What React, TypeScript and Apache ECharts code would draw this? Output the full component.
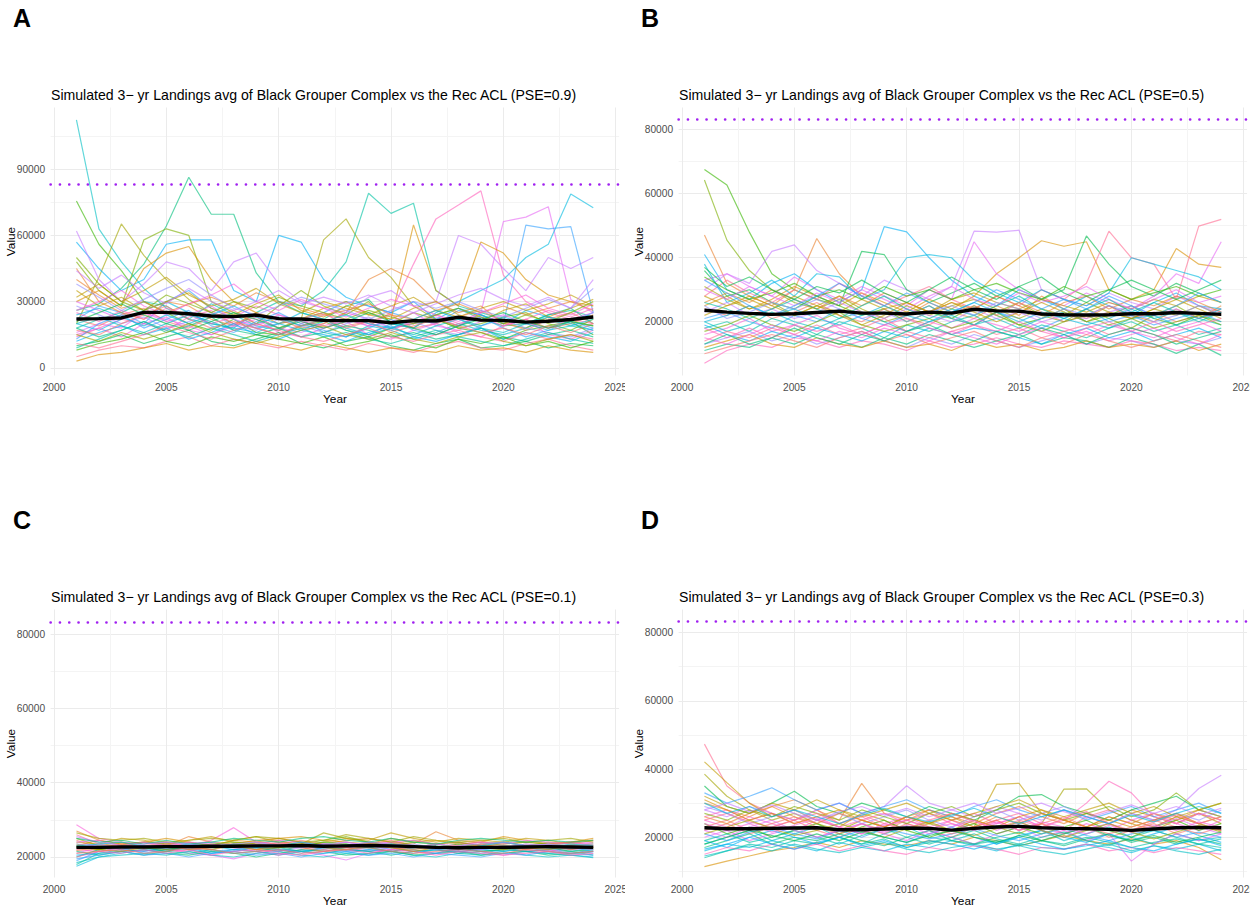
import React, { useEffect, useRef } from "react";
import * as echarts from "echarts";

const years = [2001, 2002, 2003, 2004, 2005, 2006, 2007, 2008, 2009, 2010, 2011, 2012, 2013, 2014, 2015, 2016, 2017, 2018, 2019, 2020, 2021, 2022, 2023, 2024];
const ACL = 83300;

// Simulated series (thousands)
const simA: number[][] = [
  [112.4, 63.0, 48.0, 36.0, 27.0, 22.0, 29.0, 24.0, 19.0, 17.0, 22.0, 16.0, 14.0, 19.0, 17.0, 13.0, 16.0, 20.0, 17.0, 15.0, 18.0, 22.0, 19.0, 17.0],
  [75.6, 56.0, 44.0, 30.0, 25.0, 20.0, 17.0, 22.0, 16.0, 15.0, 19.0, 21.0, 17.0, 14.0, 18.0, 20.0, 22.0, 18.0, 16.0, 13.0, 17.0, 19.0, 21.0, 15.0],
  [26.0, 29.0, 36.0, 47.0, 64.3, 86.4, 69.6, 69.6, 43.0, 30.0, 25.0, 22.0, 28.0, 31.0, 20.0, 18.0, 24.0, 27.0, 22.0, 19.0, 20.0, 24.0, 27.0, 20.0],
  [20.0, 41.0, 65.2, 51.0, 40.0, 31.0, 25.0, 20.0, 23.0, 18.0, 22.0, 58.0, 67.5, 50.0, 41.0, 28.0, 22.0, 19.0, 24.0, 20.0, 18.0, 23.0, 21.0, 19.0],
  [18.0, 22.0, 25.0, 30.0, 28.0, 22.0, 20.0, 18.0, 25.0, 30.0, 28.0, 35.0, 48.0, 79.1, 70.0, 74.6, 35.0, 28.0, 25.0, 22.0, 20.0, 24.0, 26.0, 23.0],
  [14.0, 18.0, 22.0, 20.0, 17.0, 23.0, 26.0, 20.0, 18.0, 15.0, 20.0, 24.0, 22.0, 19.0, 25.0, 47.0, 67.5, 73.8, 80.2, 42.0, 30.0, 25.0, 22.0, 20.0],
  [16.0, 20.0, 18.0, 25.0, 22.0, 19.0, 15.0, 20.0, 23.0, 18.0, 16.0, 20.0, 25.0, 22.0, 18.0, 20.0, 23.0, 19.0, 25.0, 66.3, 68.3, 73.0, 31.0, 25.0],
  [20.0, 17.0, 22.0, 26.0, 30.0, 25.0, 20.0, 18.0, 16.0, 20.0, 25.0, 22.0, 18.0, 15.0, 20.0, 18.0, 25.0, 30.0, 35.0, 40.0, 50.0, 56.0, 78.8, 72.6],
  [22.0, 28.0, 25.0, 20.0, 30.0, 35.0, 27.0, 22.0, 18.0, 20.0, 22.0, 25.0, 30.0, 28.0, 25.0, 22.0, 20.0, 26.0, 24.0, 20.0, 64.7, 63.0, 64.0, 25.0],
  [57.0, 45.0, 35.0, 40.0, 56.0, 58.0, 58.0, 35.0, 30.0, 60.0, 57.0, 40.0, 32.0, 28.0, 25.0, 30.0, 22.0, 27.0, 24.0, 20.0, 26.0, 23.0, 21.0, 25.0],
  [48.0, 35.0, 28.0, 58.0, 63.0, 60.0, 30.0, 25.0, 20.0, 28.0, 35.0, 28.0, 24.0, 30.0, 20.0, 25.0, 22.0, 18.0, 20.0, 23.0, 25.0, 20.0, 17.0, 22.0],
  [45.0, 30.0, 25.0, 22.0, 30.0, 28.0, 22.0, 19.0, 25.0, 22.0, 18.0, 20.0, 25.0, 40.0, 45.0, 40.0, 30.0, 25.0, 28.0, 20.0, 22.0, 18.0, 20.0, 24.0],
  [30.0, 35.0, 28.0, 45.0, 52.0, 55.0, 40.0, 30.0, 25.0, 20.0, 22.0, 27.0, 30.0, 24.0, 22.0, 64.8, 35.0, 28.0, 57.0, 52.0, 40.0, 33.0, 30.0, 28.0],
  [62.0, 40.0, 30.0, 38.0, 48.0, 45.0, 35.0, 48.0, 52.0, 38.0, 30.0, 27.0, 25.0, 32.0, 35.0, 28.0, 30.0, 60.0, 56.0, 45.0, 35.0, 50.0, 45.0, 50.0],
  [22.0, 19.0, 24.0, 27.0, 21.0, 18.0, 23.0, 26.0, 20.0, 17.0, 22.0, 25.0, 19.0, 21.0, 24.0, 18.0, 20.0, 23.0, 26.0, 21.0, 17.0, 22.0, 25.0, 20.0],
  [15.0, 18.0, 14.0, 20.0, 23.0, 17.0, 15.0, 19.0, 22.0, 16.0, 14.0, 18.0, 21.0, 15.0, 13.0, 17.0, 20.0, 16.0, 14.0, 19.0, 22.0, 15.0, 13.0, 17.0],
  [10.0, 12.0, 15.0, 11.0, 14.0, 17.0, 12.0, 10.0, 13.0, 16.0, 11.0, 9.0, 12.0, 14.0, 10.0, 8.0, 11.0, 13.0, 9.0, 10.0, 12.0, 9.0, 11.0, 10.0],
  [35.0, 28.0, 32.0, 26.0, 30.0, 34.0, 27.0, 24.0, 29.0, 33.0, 26.0, 23.0, 28.0, 25.0, 22.0, 27.0, 30.0, 24.0, 21.0, 26.0, 29.0, 23.0, 27.0, 31.0],
  [5.0, 8.0, 10.0, 9.0, 12.0, 14.0, 10.0, 13.0, 11.0, 9.0, 12.0, 10.0, 8.0, 11.0, 9.0, 7.0, 10.0, 12.0, 9.0, 8.0, 11.0, 13.0, 10.0, 8.0],
  [28.0, 24.0, 20.0, 23.0, 18.0, 21.0, 25.0, 19.0, 17.0, 22.0, 19.0, 16.0, 20.0, 23.0, 18.0, 21.0, 17.0, 15.0, 19.0, 22.0, 18.0, 16.0, 14.0, 18.0],
  [18.0, 14.0, 17.0, 21.0, 16.0, 19.0, 23.0, 17.0, 15.0, 18.0, 14.0, 16.0, 19.0, 17.0, 14.0, 16.0, 13.0, 15.0, 18.0, 14.0, 12.0, 15.0, 17.0, 14.0],
  [40.0, 33.0, 27.0, 30.0, 25.0, 29.0, 32.0, 28.0, 34.0, 30.0, 27.0, 24.0, 26.0, 29.0, 24.0, 22.0, 26.0, 29.0, 25.0, 28.0, 24.0, 27.0, 30.0, 26.0],
  [12.0, 16.0, 19.0, 15.0, 18.0, 13.0, 16.0, 20.0, 15.0, 13.0, 17.0, 15.0, 12.0, 16.0, 19.0, 14.0, 12.0, 15.0, 18.0, 13.0, 16.0, 14.0, 12.0, 16.0],
  [25.0, 21.0, 26.0, 22.0, 27.0, 24.0, 20.0, 23.0, 28.0, 24.0, 21.0, 19.0, 22.0, 20.0, 17.0, 21.0, 24.0, 20.0, 23.0, 19.0, 22.0, 26.0, 23.0, 27.0],
  [8.0, 11.0, 13.0, 16.0, 12.0, 10.0, 14.0, 12.0, 15.0, 13.0, 11.0, 14.0, 10.0, 12.0, 15.0, 11.0, 9.0, 13.0, 11.0, 14.0, 10.0, 12.0, 9.0, 12.0],
  [30.0, 26.0, 22.0, 25.0, 21.0, 24.0, 28.0, 22.0, 19.0, 24.0, 21.0, 18.0, 22.0, 19.0, 21.0, 25.0, 19.0, 17.0, 21.0, 24.0, 20.0, 18.0, 22.0, 25.0],
  [20.0, 23.0, 19.0, 16.0, 20.0, 24.0, 21.0, 17.0, 20.0, 23.0, 19.0, 22.0, 17.0, 15.0, 18.0, 15.0, 19.0, 22.0, 18.0, 16.0, 20.0, 17.0, 19.0, 22.0],
  [3.0, 6.0, 7.0, 9.0, 11.0, 8.0, 10.0, 9.0, 12.0, 10.0, 8.0, 11.0, 9.0, 7.0, 9.0, 8.0, 7.0, 10.0, 8.0, 9.0, 7.0, 10.0, 8.0, 7.0],
  [32.0, 38.0, 30.0, 35.0, 41.0, 33.0, 28.0, 31.0, 36.0, 29.0, 25.0, 30.0, 27.0, 24.0, 28.0, 32.0, 26.0, 23.0, 27.0, 30.0, 26.0, 29.0, 33.0, 28.0],
  [13.0, 20.0, 24.0, 18.0, 22.0, 26.0, 19.0, 16.0, 21.0, 25.0, 20.0, 17.0, 14.0, 18.0, 22.0, 17.0, 15.0, 19.0, 23.0, 18.0, 14.0, 17.0, 21.0, 18.0],
  [26.0, 30.0, 35.0, 28.0, 24.0, 29.0, 33.0, 38.0, 30.0, 26.0, 31.0, 27.0, 23.0, 27.0, 31.0, 28.0, 24.0, 21.0, 25.0, 29.0, 33.0, 27.0, 24.0, 29.0],
  [9.0, 13.0, 17.0, 21.0, 17.0, 14.0, 18.0, 15.0, 12.0, 15.0, 18.0, 14.0, 16.0, 13.0, 11.0, 14.0, 17.0, 14.0, 12.0, 10.0, 13.0, 16.0, 13.0, 11.0],
  [50.0, 38.0, 30.0, 26.0, 33.0, 29.0, 25.0, 30.0, 27.0, 32.0, 28.0, 25.0, 22.0, 26.0, 23.0, 20.0, 24.0, 27.0, 23.0, 20.0, 24.0, 21.0, 25.0, 30.0],
  [17.0, 15.0, 20.0, 24.0, 28.0, 22.0, 18.0, 21.0, 18.0, 15.0, 19.0, 22.0, 18.0, 21.0, 16.0, 19.0, 22.0, 19.0, 16.0, 18.0, 15.0, 19.0, 16.0, 20.0],
  [24.0, 27.0, 23.0, 19.0, 24.0, 20.0, 24.0, 28.0, 23.0, 20.0, 17.0, 21.0, 24.0, 20.0, 18.0, 22.0, 26.0, 22.0, 19.0, 23.0, 20.0, 23.0, 20.0, 17.0],
  [38.0, 32.0, 26.0, 31.0, 36.0, 40.0, 33.0, 27.0, 24.0, 28.0, 32.0, 29.0, 26.0, 22.0, 26.0, 30.0, 27.0, 30.0, 26.0, 23.0, 27.0, 31.0, 27.0, 36.0],
  [11.0, 9.0, 12.0, 15.0, 19.0, 16.0, 13.0, 17.0, 20.0, 17.0, 14.0, 12.0, 15.0, 18.0, 14.0, 12.0, 15.0, 17.0, 14.0, 12.0, 16.0, 13.0, 15.0, 13.0],
  [21.0, 25.0, 29.0, 24.0, 20.0, 17.0, 21.0, 25.0, 22.0, 18.0, 21.0, 18.0, 21.0, 25.0, 21.0, 18.0, 15.0, 19.0, 22.0, 25.0, 21.0, 18.0, 21.0, 19.0],
  [44.0, 36.0, 42.0, 34.0, 29.0, 36.0, 30.0, 26.0, 30.0, 35.0, 29.0, 32.0, 29.0, 33.0, 28.0, 25.0, 29.0, 33.0, 36.0, 31.0, 28.0, 32.0, 27.0, 40.0],
  [15.0, 12.0, 16.0, 13.0, 16.0, 20.0, 16.0, 13.0, 11.0, 14.0, 17.0, 19.0, 15.0, 13.0, 16.0, 13.0, 11.0, 14.0, 16.0, 12.0, 10.0, 13.0, 15.0, 12.0],
];
const meanA = [22.1, 22.3, 22.6, 25.1, 25.1, 24.5, 23.5, 23.2, 23.9, 22.3, 22.1, 21.5, 21.4, 21.4, 20.4, 21.4, 21.2, 22.9, 21.6, 21.5, 20.7, 21.1, 21.9, 23.0];

const simB: number[][] = [
  [67.6, 62.7, 48.0, 35.0, 30.0, 27.0, 25.0, 22.0, 24.0, 20.0, 23.0, 21.0, 25.0, 22.0, 19.0, 21.0, 24.0, 20.0, 22.0, 25.0, 21.0, 19.0, 22.0, 20.0],
  [64.3, 45.5, 36.0, 30.0, 26.0, 24.0, 27.0, 23.0, 20.0, 22.0, 25.0, 21.0, 19.0, 23.0, 26.0, 22.0, 20.0, 24.0, 21.0, 18.0, 22.0, 25.0, 21.0, 23.0],
  [47.1, 32.0, 28.0, 25.0, 30.0, 46.0, 35.0, 28.0, 25.0, 22.0, 26.0, 23.0, 21.0, 25.0, 22.0, 28.0, 24.0, 21.0, 25.0, 22.0, 20.0, 24.0, 21.0, 25.0],
  [41.0, 30.0, 27.0, 32.0, 35.0, 30.0, 26.0, 30.0, 49.7, 48.1, 40.0, 33.0, 28.0, 25.0, 30.0, 27.0, 24.0, 28.0, 25.0, 22.0, 26.0, 29.0, 25.0, 24.0],
  [30.0, 35.0, 32.0, 42.0, 44.0, 36.0, 32.0, 28.0, 33.0, 30.0, 27.0, 31.0, 48.3, 48.0, 48.6, 30.0, 27.0, 25.0, 29.0, 26.0, 24.0, 28.0, 25.0, 23.0],
  [25.0, 28.0, 24.0, 27.0, 31.0, 28.0, 25.0, 29.0, 26.0, 23.0, 27.0, 24.0, 28.0, 35.0, 40.0, 45.3, 43.6, 45.0, 30.0, 27.0, 30.0, 42.9, 38.0, 37.0],
  [36.0, 28.0, 30.0, 26.0, 24.0, 28.0, 25.0, 42.0, 41.0, 30.0, 26.0, 29.0, 32.0, 28.0, 31.0, 27.0, 30.0, 46.8, 38.0, 31.0, 28.0, 32.0, 29.0, 26.0],
  [28.0, 33.0, 29.0, 26.0, 30.0, 27.0, 32.0, 29.0, 25.0, 28.0, 31.0, 27.0, 24.0, 28.0, 25.0, 30.0, 27.0, 32.0, 48.3, 40.0, 38.0, 27.0, 49.9, 52.0],
  [33.0, 35.0, 31.0, 28.0, 34.0, 30.0, 27.0, 31.0, 28.0, 25.0, 30.0, 27.0, 45.0, 35.0, 30.0, 27.0, 25.0, 29.0, 26.0, 24.0, 28.0, 35.0, 32.0, 45.0],
  [38.0, 26.0, 29.0, 33.0, 28.0, 35.0, 34.0, 27.0, 30.0, 40.0, 41.0, 40.0, 33.0, 29.0, 26.0, 30.0, 27.0, 25.0, 29.0, 40.0, 38.0, 36.0, 34.0, 30.0],
  [24.0, 22.0, 25.0, 21.0, 23.0, 26.0, 22.0, 20.0, 24.0, 21.0, 19.0, 23.0, 25.0, 22.0, 26.0, 23.0, 20.0, 22.0, 25.0, 21.0, 23.0, 20.0, 22.0, 24.0],
  [18.0, 20.0, 17.0, 21.0, 19.0, 16.0, 20.0, 18.0, 15.0, 19.0, 17.0, 20.0, 22.0, 18.0, 16.0, 19.0, 17.0, 15.0, 18.0, 20.0, 17.0, 19.0, 16.0, 18.0],
  [13.0, 15.0, 17.0, 14.0, 16.0, 13.0, 15.0, 17.0, 14.0, 12.0, 15.0, 13.0, 16.0, 14.0, 12.0, 14.0, 16.0, 13.0, 15.0, 14.0, 12.0, 14.0, 13.0, 15.0],
  [28.0, 25.0, 27.0, 24.0, 28.0, 25.0, 23.0, 27.0, 24.0, 26.0, 23.0, 27.0, 29.0, 26.0, 24.0, 27.0, 25.0, 23.0, 26.0, 24.0, 27.0, 25.0, 28.0, 26.0],
  [7.0, 11.0, 13.0, 12.0, 15.0, 14.0, 12.0, 14.0, 13.0, 11.0, 14.0, 12.0, 13.0, 15.0, 13.0, 12.0, 14.0, 13.0, 12.0, 14.0, 13.0, 11.0, 12.0, 11.0],
  [21.0, 23.0, 20.0, 18.0, 22.0, 20.0, 24.0, 21.0, 19.0, 22.0, 25.0, 21.0, 19.0, 23.0, 21.0, 18.0, 21.0, 24.0, 20.0, 22.0, 19.0, 21.0, 23.0, 20.0],
  [31.0, 27.0, 24.0, 26.0, 22.0, 25.0, 28.0, 24.0, 21.0, 25.0, 22.0, 25.0, 27.0, 24.0, 21.0, 24.0, 22.0, 26.0, 23.0, 21.0, 24.0, 22.0, 25.0, 22.0],
  [16.0, 18.0, 21.0, 17.0, 19.0, 22.0, 18.0, 16.0, 19.0, 17.0, 20.0, 18.0, 21.0, 19.0, 17.0, 20.0, 18.0, 16.0, 19.0, 17.0, 15.0, 18.0, 20.0, 17.0],
  [11.0, 13.0, 12.0, 15.0, 13.0, 16.0, 14.0, 12.0, 15.0, 13.0, 16.0, 14.0, 12.0, 14.0, 16.0, 13.0, 15.0, 14.0, 12.0, 15.0, 13.0, 10.1, 13.0, 9.5],
  [26.0, 29.0, 26.0, 30.0, 27.0, 24.0, 28.0, 25.0, 29.0, 26.0, 23.0, 26.0, 24.0, 28.0, 25.0, 22.0, 26.0, 28.0, 24.0, 27.0, 25.0, 28.0, 26.0, 23.0],
  [20.0, 17.0, 19.0, 23.0, 20.0, 18.0, 21.0, 23.0, 20.0, 17.0, 20.0, 22.0, 19.0, 21.0, 18.0, 21.0, 23.0, 20.0, 18.0, 21.0, 22.0, 19.0, 21.0, 19.0],
  [14.0, 17.0, 15.0, 18.0, 16.0, 19.0, 16.0, 18.0, 21.0, 17.0, 15.0, 17.0, 19.0, 16.0, 18.0, 15.0, 17.0, 19.0, 16.0, 18.0, 16.0, 14.0, 17.0, 16.0],
  [34.0, 30.0, 27.0, 29.0, 32.0, 28.0, 30.0, 27.0, 31.0, 28.0, 30.0, 27.0, 30.0, 32.0, 29.0, 27.0, 31.0, 28.0, 30.0, 27.0, 29.0, 31.0, 28.0, 30.0],
  [23.0, 26.0, 22.0, 24.0, 21.0, 23.0, 26.0, 23.0, 21.0, 24.0, 22.0, 20.0, 24.0, 21.0, 23.0, 20.0, 22.0, 21.0, 23.0, 25.0, 22.0, 24.0, 21.0, 23.0],
  [19.0, 16.0, 14.0, 17.0, 15.0, 18.0, 16.0, 14.0, 17.0, 15.0, 18.0, 16.0, 18.0, 17.0, 15.0, 13.0, 16.0, 18.0, 15.0, 17.0, 14.0, 16.0, 18.0, 15.0],
  [12.0, 14.0, 16.0, 13.0, 12.0, 15.0, 13.0, 12.0, 14.0, 12.0, 13.0, 11.0, 14.0, 12.0, 13.0, 11.0, 12.0, 14.0, 12.0, 13.0, 12.0, 14.0, 11.0, 13.0],
  [30.0, 27.0, 31.0, 28.0, 25.0, 29.0, 26.0, 30.0, 27.0, 24.0, 28.0, 31.0, 27.0, 25.0, 29.0, 26.0, 28.0, 31.0, 27.0, 24.0, 27.0, 30.0, 26.0, 28.0],
  [17.0, 19.0, 22.0, 19.0, 17.0, 20.0, 23.0, 19.0, 17.0, 19.0, 21.0, 18.0, 20.0, 23.0, 19.0, 17.0, 20.0, 22.0, 19.0, 21.0, 18.0, 20.0, 22.0, 19.0],
  [26.0, 24.0, 21.0, 24.0, 27.0, 24.0, 21.0, 25.0, 28.0, 24.0, 21.0, 24.0, 22.0, 25.0, 28.0, 24.0, 21.0, 24.0, 27.0, 23.0, 26.0, 23.0, 20.0, 23.0],
  [15.0, 13.0, 16.0, 19.0, 16.0, 14.0, 17.0, 15.0, 18.0, 16.0, 14.0, 17.0, 15.0, 13.0, 16.0, 18.0, 15.0, 17.0, 14.0, 16.0, 18.0, 15.0, 13.0, 16.0],
  [22.0, 25.0, 28.0, 25.0, 22.0, 25.0, 22.0, 19.0, 22.0, 26.0, 23.0, 26.0, 23.0, 20.0, 23.0, 26.0, 23.0, 20.0, 23.0, 21.0, 24.0, 27.0, 24.0, 21.0],
  [33.0, 29.0, 25.0, 22.0, 25.0, 28.0, 32.0, 28.0, 25.0, 29.0, 26.0, 23.0, 26.0, 30.0, 27.0, 24.0, 27.0, 24.0, 28.0, 25.0, 22.0, 25.0, 29.0, 26.0],
  [10.0, 12.0, 14.0, 16.0, 14.0, 12.0, 15.0, 17.0, 14.0, 16.0, 13.0, 15.0, 17.0, 14.0, 12.0, 15.0, 13.0, 16.0, 14.0, 12.0, 14.0, 16.0, 14.0, 12.0],
  [20.0, 22.0, 25.0, 22.0, 24.0, 21.0, 19.0, 22.0, 25.0, 22.0, 20.0, 23.0, 26.0, 23.0, 20.0, 23.0, 21.0, 19.0, 21.0, 24.0, 21.0, 23.0, 21.0, 24.0],
  [37.0, 31.0, 34.0, 30.0, 27.0, 31.0, 29.0, 33.0, 29.0, 26.0, 30.0, 34.0, 30.0, 27.0, 31.0, 34.0, 29.0, 26.0, 30.0, 33.0, 30.0, 27.0, 30.0, 33.0],
  [18.0, 15.0, 18.0, 15.0, 19.0, 17.0, 19.0, 16.0, 19.0, 21.0, 18.0, 16.0, 19.0, 17.0, 20.0, 17.0, 15.0, 18.0, 20.0, 17.0, 20.0, 17.0, 19.0, 21.0],
  [25.0, 21.0, 23.0, 26.0, 24.0, 27.0, 24.0, 21.0, 23.0, 20.0, 23.0, 25.0, 22.0, 26.0, 24.0, 21.0, 24.0, 22.0, 25.0, 23.0, 20.0, 22.0, 25.0, 22.0],
  [13.0, 16.0, 13.0, 15.0, 18.0, 15.0, 13.0, 16.0, 14.0, 17.0, 19.0, 16.0, 14.0, 17.0, 15.0, 18.0, 16.0, 13.0, 16.0, 18.0, 16.0, 13.0, 15.0, 17.0],
];
const meanB = [23.6, 23.0, 22.6, 22.3, 22.5, 22.9, 23.3, 22.7, 22.7, 22.4, 23.0, 22.7, 23.9, 23.4, 23.3, 22.4, 22.2, 22.1, 22.2, 22.5, 22.5, 22.9, 22.6, 22.3];

const simC: number[][] = [
  [28.7, 25.0, 24.0, 23.5, 24.0, 23.0, 24.5, 27.9, 24.0, 23.5, 24.0, 23.0, 22.5, 23.5, 24.0, 23.0, 22.5, 23.5, 24.0, 23.0, 22.5, 23.0, 24.0, 23.5],
  [17.5, 20.0, 21.0, 22.0, 21.5, 22.5, 21.0, 22.0, 21.5, 20.5, 21.5, 22.0, 21.0, 22.0, 21.5, 21.0, 22.0, 21.5, 21.0, 22.0, 21.5, 21.0, 20.5, 20.0],
  [27.0, 24.5, 23.5, 24.0, 23.0, 25.5, 24.0, 23.5, 24.5, 25.0, 24.0, 23.5, 24.5, 25.0, 24.0, 23.5, 26.8, 24.5, 24.0, 23.5, 24.0, 23.5, 24.0, 24.5],
  [21.0, 22.5, 22.0, 21.5, 22.5, 21.0, 20.5, 19.5, 21.0, 22.0, 21.5, 20.5, 19.2, 21.0, 22.0, 21.5, 21.0, 22.0, 21.5, 20.5, 21.5, 22.0, 21.0, 21.5],
  [25.0, 23.0, 24.0, 22.5, 23.5, 24.0, 23.0, 24.5, 25.5, 24.0, 23.5, 26.5, 25.0, 24.0, 23.5, 24.5, 23.5, 22.5, 23.5, 24.0, 23.0, 24.0, 23.5, 22.5],
  [19.0, 21.5, 22.5, 21.0, 22.0, 22.5, 21.5, 22.0, 23.0, 22.0, 21.0, 22.5, 21.5, 22.0, 23.0, 22.0, 21.0, 22.5, 22.0, 21.5, 22.5, 21.5, 22.0, 21.0],
  [23.0, 24.5, 23.5, 24.0, 25.0, 24.0, 23.0, 24.5, 24.0, 25.0, 25.5, 24.5, 24.0, 23.5, 25.0, 24.0, 24.5, 23.5, 24.0, 25.5, 24.5, 23.5, 24.0, 25.0],
  [22.0, 21.5, 22.5, 23.0, 22.0, 21.5, 23.0, 22.5, 21.5, 20.5, 22.0, 23.0, 22.5, 21.5, 22.0, 23.0, 22.0, 21.0, 22.5, 23.0, 22.0, 21.5, 22.5, 22.0],
  [20.0, 22.0, 23.0, 22.5, 21.5, 23.0, 22.0, 23.5, 22.5, 21.5, 23.0, 22.5, 23.5, 22.5, 21.5, 22.5, 23.5, 22.5, 21.5, 22.0, 23.0, 22.5, 21.5, 22.0],
  [24.0, 23.5, 25.0, 24.5, 23.5, 24.5, 25.5, 24.0, 23.5, 24.5, 23.0, 24.0, 25.0, 24.5, 26.5, 25.0, 24.0, 25.0, 24.5, 24.0, 25.0, 24.5, 23.5, 24.5],
  [18.5, 20.0, 20.5, 21.0, 20.5, 21.5, 20.5, 20.0, 21.0, 21.5, 20.5, 20.0, 21.0, 20.5, 21.5, 20.5, 20.0, 21.0, 20.5, 21.5, 20.5, 20.0, 20.5, 19.8],
  [26.0, 23.5, 22.5, 23.0, 24.0, 22.5, 23.5, 22.5, 23.0, 24.0, 23.0, 22.0, 23.0, 24.0, 23.0, 22.5, 23.5, 24.0, 23.0, 22.5, 23.5, 23.0, 22.5, 23.0],
  [21.5, 20.5, 21.5, 22.0, 21.0, 20.5, 21.5, 21.0, 20.0, 21.0, 22.0, 21.5, 20.5, 21.0, 21.5, 20.5, 21.0, 21.5, 20.5, 21.0, 21.5, 20.5, 21.0, 21.5],
  [24.5, 22.5, 23.5, 22.5, 23.0, 23.5, 22.5, 23.0, 24.0, 23.5, 24.5, 23.5, 22.5, 23.5, 24.5, 23.0, 22.5, 23.0, 23.5, 22.5, 23.0, 23.5, 24.0, 23.0],
  [22.5, 23.5, 22.0, 23.0, 22.5, 23.5, 24.0, 23.0, 22.5, 23.5, 22.5, 23.5, 24.0, 23.0, 22.5, 23.5, 22.5, 22.0, 23.0, 22.5, 23.5, 23.0, 22.5, 22.0],
  [20.5, 21.0, 22.0, 21.5, 22.5, 22.0, 21.0, 21.5, 22.5, 22.0, 21.5, 22.5, 22.0, 21.5, 22.5, 21.5, 22.0, 21.5, 22.0, 22.5, 21.5, 22.0, 22.5, 21.5],
  [23.5, 22.0, 23.0, 24.0, 23.5, 22.5, 23.5, 24.0, 23.5, 22.5, 23.5, 24.5, 25.5, 24.0, 23.0, 24.0, 23.5, 24.0, 23.0, 23.5, 24.0, 23.5, 23.0, 23.5],
  [25.5, 24.0, 23.0, 22.5, 23.5, 22.0, 22.5, 23.5, 22.0, 21.5, 22.5, 23.5, 22.5, 23.0, 22.0, 22.5, 23.5, 22.5, 22.0, 23.0, 22.5, 23.5, 22.0, 22.5],
  [18.0, 21.0, 21.5, 20.5, 21.5, 21.0, 22.0, 21.0, 21.5, 22.5, 21.5, 21.0, 22.0, 21.5, 20.5, 21.5, 22.0, 21.0, 21.5, 22.0, 21.5, 21.0, 21.5, 20.5],
  [22.8, 22.0, 23.0, 22.5, 22.0, 23.0, 22.5, 23.5, 23.0, 22.5, 23.0, 24.0, 23.5, 22.5, 23.5, 23.0, 22.5, 23.5, 22.5, 23.0, 22.5, 22.5, 23.0, 22.5],
  [21.8, 22.5, 23.5, 22.5, 23.5, 22.5, 22.0, 23.0, 22.0, 23.5, 22.5, 21.5, 22.5, 23.5, 22.5, 22.0, 23.0, 22.0, 23.5, 22.5, 22.0, 23.0, 22.0, 23.0],
  [24.0, 24.5, 23.0, 24.0, 23.0, 24.0, 23.5, 22.5, 23.5, 24.5, 24.0, 23.0, 24.0, 23.0, 24.0, 24.5, 23.5, 23.0, 24.0, 23.5, 24.5, 24.0, 23.5, 24.0],
  [19.5, 20.5, 21.5, 20.5, 21.0, 20.0, 21.0, 21.5, 20.5, 21.0, 20.0, 21.0, 21.5, 20.5, 21.0, 20.0, 21.0, 20.5, 20.0, 21.0, 20.5, 21.5, 21.0, 20.5],
  [26.5, 25.0, 24.5, 25.0, 24.0, 24.5, 25.0, 24.5, 25.5, 25.0, 24.0, 24.5, 26.0, 25.0, 24.0, 25.5, 24.5, 24.0, 24.5, 25.0, 24.0, 24.5, 25.0, 24.0],
  [23.0, 23.5, 24.0, 23.0, 22.5, 23.5, 23.0, 22.0, 22.5, 23.0, 24.0, 23.0, 22.0, 22.5, 23.5, 22.5, 23.0, 22.0, 23.0, 24.0, 23.0, 22.5, 23.5, 23.0],
  [20.0, 21.5, 21.0, 22.0, 21.0, 22.0, 20.5, 21.5, 22.0, 21.0, 20.5, 21.5, 22.0, 21.0, 22.0, 21.5, 20.5, 21.5, 21.0, 20.5, 21.0, 21.5, 20.5, 21.0],
  [22.5, 22.0, 21.5, 22.5, 23.0, 22.0, 22.5, 23.0, 22.0, 22.5, 23.5, 22.5, 22.0, 23.0, 22.5, 21.5, 22.5, 23.0, 22.5, 22.0, 22.5, 22.0, 23.0, 22.5],
  [25.0, 24.0, 24.5, 23.5, 24.5, 23.5, 24.0, 25.0, 24.5, 24.0, 25.0, 25.5, 24.5, 24.0, 25.0, 24.0, 23.5, 24.5, 25.0, 24.5, 24.0, 24.5, 24.0, 24.5],
  [21.0, 21.5, 22.0, 21.0, 21.5, 22.5, 22.0, 21.0, 21.5, 22.0, 21.0, 21.5, 22.0, 22.5, 21.5, 21.0, 21.5, 22.0, 21.5, 21.0, 22.0, 21.5, 21.0, 21.5],
  [23.5, 23.0, 22.5, 23.5, 24.0, 23.5, 22.5, 23.5, 24.0, 23.0, 22.5, 23.5, 23.0, 24.0, 23.5, 23.0, 22.0, 23.0, 23.5, 24.0, 23.0, 23.5, 23.0, 23.5],
];
const meanC = [22.6, 22.6, 22.7, 22.7, 22.8, 22.8, 22.9, 22.9, 23.0, 23.0, 23.1, 22.9, 23.0, 23.1, 23.0, 22.8, 22.6, 22.5, 22.6, 22.6, 22.7, 22.8, 22.7, 22.6];

const simD: number[][] = [
  [47.3, 35.0, 30.0, 27.0, 25.0, 28.0, 24.0, 26.0, 23.0, 25.0, 27.0, 24.0, 22.0, 25.0, 27.0, 24.0, 22.0, 26.0, 28.0, 25.0, 23.0, 26.0, 24.0, 22.0],
  [42.1, 36.0, 30.0, 26.0, 28.0, 25.0, 23.0, 27.0, 25.0, 22.0, 24.0, 26.0, 23.0, 35.5, 35.8, 27.0, 25.0, 23.0, 26.0, 24.0, 22.0, 25.0, 27.0, 24.0],
  [38.5, 32.0, 28.0, 25.0, 27.0, 24.0, 22.0, 25.0, 23.0, 26.0, 24.0, 22.0, 25.0, 23.0, 21.0, 24.0, 34.1, 34.2, 28.0, 25.0, 23.0, 26.0, 24.0, 22.0],
  [11.4, 13.0, 14.5, 16.0, 17.0, 18.5, 17.0, 19.0, 18.0, 17.5, 19.0, 18.0, 20.0, 19.0, 17.5, 19.0, 20.5, 19.0, 18.0, 19.5, 18.0, 19.0, 17.0, 13.4],
  [30.0, 28.0, 26.0, 29.0, 31.0, 28.0, 25.0, 35.8, 27.0, 25.0, 28.0, 26.0, 24.0, 27.0, 29.0, 26.0, 24.0, 27.0, 25.0, 28.0, 26.0, 24.0, 27.0, 25.0],
  [28.0, 26.0, 29.0, 27.0, 25.0, 28.0, 30.0, 27.0, 29.0, 35.1, 30.0, 28.0, 26.0, 29.0, 27.0, 25.0, 28.0, 26.0, 24.0, 27.0, 25.0, 28.0, 34.3, 38.2],
  [26.0, 28.0, 25.0, 27.0, 24.0, 26.0, 23.0, 25.0, 27.0, 24.0, 22.0, 25.0, 27.0, 24.0, 26.0, 23.0, 25.0, 30.0, 36.4, 33.0, 26.0, 24.0, 27.0, 25.0],
  [33.0, 30.0, 32.0, 34.5, 31.0, 28.0, 30.0, 27.0, 29.0, 31.0, 28.0, 26.0, 29.0, 31.0, 28.0, 26.0, 28.0, 25.0, 27.0, 29.0, 26.0, 28.0, 30.0, 27.0],
  [35.0, 29.0, 27.0, 30.0, 33.5, 29.0, 27.0, 30.0, 28.0, 26.0, 29.0, 27.0, 25.0, 28.0, 32.0, 32.5, 29.0, 27.0, 25.0, 28.0, 30.0, 32.0, 28.0, 26.0],
  [18.0, 20.0, 22.0, 19.0, 21.0, 23.0, 20.0, 18.0, 21.0, 23.0, 20.0, 19.0, 21.0, 18.0, 20.0, 22.0, 19.0, 21.0, 23.0, 20.0, 18.0, 21.0, 19.0, 20.0],
  [22.0, 24.0, 21.0, 23.0, 25.0, 22.0, 20.0, 23.0, 21.0, 24.0, 22.0, 20.0, 23.0, 25.0, 22.0, 24.0, 21.0, 23.0, 20.0, 22.0, 24.0, 21.0, 23.0, 22.0],
  [16.0, 18.0, 17.0, 19.0, 17.5, 16.0, 18.5, 17.0, 16.0, 18.0, 17.0, 19.0, 17.5, 16.0, 18.0, 17.0, 16.5, 18.0, 17.0, 15.5, 17.5, 16.5, 18.0, 16.0],
  [25.0, 23.0, 26.0, 24.0, 22.0, 25.0, 23.0, 21.0, 24.0, 26.0, 23.0, 25.0, 22.0, 24.0, 26.0, 23.0, 21.0, 24.0, 22.0, 25.0, 27.0, 24.0, 22.0, 25.0],
  [14.0, 16.0, 18.0, 17.0, 19.0, 18.0, 20.0, 18.0, 19.5, 17.0, 18.5, 20.0, 18.0, 19.0, 17.5, 19.0, 18.0, 20.0, 18.5, 17.0, 18.5, 19.5, 18.0, 17.0],
  [20.0, 22.0, 19.0, 21.0, 23.0, 20.0, 22.0, 24.0, 21.0, 19.0, 22.0, 20.0, 18.0, 21.0, 23.0, 20.0, 22.0, 19.0, 21.0, 13.0, 18.0, 21.0, 19.0, 21.0],
  [29.0, 27.0, 24.0, 26.0, 28.0, 25.0, 27.0, 24.0, 26.0, 28.0, 25.0, 23.0, 26.0, 28.0, 25.0, 27.0, 29.0, 26.0, 24.0, 27.0, 25.0, 27.0, 25.0, 28.0],
  [17.0, 19.0, 21.0, 18.0, 20.0, 19.0, 21.0, 19.0, 17.5, 20.0, 22.0, 19.0, 18.0, 20.0, 21.5, 19.0, 17.5, 19.5, 21.0, 18.5, 20.0, 18.0, 19.5, 18.0],
  [31.0, 28.0, 25.0, 27.0, 24.0, 26.0, 28.0, 25.0, 23.0, 26.0, 24.0, 27.0, 25.0, 23.0, 26.0, 28.0, 25.0, 23.0, 25.0, 23.0, 25.0, 27.0, 24.0, 26.0],
  [19.0, 17.0, 20.0, 22.0, 20.0, 18.0, 20.0, 22.0, 20.0, 18.5, 21.0, 23.0, 20.0, 18.0, 20.5, 22.0, 20.0, 18.5, 21.0, 19.0, 21.0, 23.0, 20.5, 18.5],
  [24.0, 21.0, 23.0, 20.0, 22.0, 24.0, 21.0, 23.0, 25.0, 22.0, 20.0, 22.0, 24.0, 21.0, 23.0, 21.0, 23.0, 25.0, 22.0, 20.0, 23.0, 25.0, 22.0, 24.0],
  [15.0, 17.0, 16.0, 18.0, 16.5, 18.0, 16.0, 17.5, 16.0, 15.0, 17.0, 16.0, 17.5, 16.5, 15.0, 17.0, 16.5, 18.0, 16.0, 17.0, 15.5, 17.0, 16.0, 15.0],
  [27.0, 25.0, 28.0, 26.0, 29.0, 27.0, 25.0, 28.0, 26.0, 24.0, 27.0, 29.0, 26.0, 28.0, 30.0, 27.0, 25.0, 27.0, 29.0, 26.0, 28.0, 33.0, 28.0, 30.0],
  [21.0, 19.0, 21.5, 23.0, 21.0, 19.5, 22.0, 20.0, 22.5, 21.0, 19.5, 21.0, 22.5, 20.5, 19.0, 21.0, 22.5, 20.5, 19.0, 21.0, 22.0, 20.0, 21.5, 20.0],
  [23.0, 25.0, 22.0, 24.0, 26.0, 23.0, 21.0, 24.0, 22.0, 25.0, 23.0, 21.0, 23.0, 25.0, 22.0, 24.0, 26.0, 23.0, 21.0, 23.0, 25.0, 23.0, 21.0, 23.0],
  [26.0, 24.0, 27.0, 29.0, 26.0, 24.0, 27.0, 25.0, 23.0, 26.0, 28.0, 25.0, 23.0, 26.0, 24.0, 27.0, 25.0, 23.0, 26.0, 24.0, 27.0, 25.0, 28.0, 26.0],
  [19.0, 21.0, 18.5, 20.0, 22.0, 20.0, 18.0, 20.5, 22.5, 20.0, 18.0, 20.0, 22.0, 19.5, 18.0, 20.0, 21.5, 19.0, 17.5, 20.0, 22.0, 20.0, 18.0, 19.5],
  [22.0, 20.0, 23.0, 25.0, 22.0, 20.0, 22.0, 24.0, 21.5, 23.5, 21.0, 23.0, 25.0, 22.0, 24.5, 22.0, 20.0, 22.5, 24.0, 21.5, 23.0, 25.5, 23.0, 21.0],
  [32.0, 29.0, 27.0, 30.0, 28.0, 31.0, 28.0, 26.0, 28.0, 30.0, 27.0, 25.0, 27.0, 29.0, 31.0, 28.0, 26.0, 28.0, 30.0, 27.0, 29.0, 26.0, 28.0, 30.0],
  [16.5, 18.0, 20.0, 18.0, 16.5, 18.5, 20.0, 17.5, 19.0, 17.0, 19.0, 18.0, 16.5, 18.5, 20.0, 18.0, 16.5, 17.5, 19.0, 17.0, 16.0, 18.0, 19.5, 17.5],
  [25.0, 27.0, 24.5, 23.0, 25.0, 27.0, 24.0, 26.5, 24.0, 22.5, 25.0, 27.0, 24.5, 22.5, 25.0, 23.0, 25.5, 27.5, 24.0, 22.0, 24.5, 26.5, 24.0, 26.0],
  [14.5, 16.0, 17.5, 16.0, 18.0, 16.5, 15.5, 17.0, 18.5, 16.5, 15.5, 17.0, 18.0, 16.5, 17.5, 16.0, 15.0, 16.5, 18.0, 16.0, 17.5, 16.0, 15.0, 16.5],
  [21.0, 23.0, 25.0, 22.5, 20.5, 22.0, 24.0, 22.0, 20.0, 22.5, 24.5, 22.0, 20.5, 22.5, 24.5, 22.0, 20.0, 22.0, 24.0, 21.5, 19.5, 21.5, 23.5, 21.5],
  [28.0, 30.0, 27.5, 29.5, 27.0, 25.0, 27.5, 29.0, 26.5, 28.5, 26.0, 28.0, 30.0, 27.0, 28.5, 30.0, 27.5, 25.5, 27.5, 29.5, 27.0, 29.0, 26.5, 28.5],
  [18.0, 20.0, 22.0, 20.5, 19.0, 21.0, 19.0, 21.5, 20.0, 18.5, 20.5, 22.0, 20.0, 18.5, 20.5, 19.0, 21.0, 23.0, 20.5, 19.0, 20.5, 18.5, 20.0, 21.5],
  [24.0, 22.0, 24.0, 21.5, 23.5, 25.5, 23.0, 21.0, 23.5, 25.0, 22.5, 24.0, 22.0, 24.5, 22.0, 24.5, 23.0, 21.0, 23.5, 21.5, 23.5, 22.0, 24.5, 23.0],
  [30.0, 27.0, 29.0, 26.0, 28.0, 26.0, 24.0, 26.5, 28.5, 26.0, 24.5, 26.5, 28.5, 26.0, 24.0, 26.0, 28.0, 26.0, 24.0, 26.5, 24.5, 27.0, 29.0, 27.0],
];
const meanD = [22.8, 22.5, 22.5, 22.6, 22.7, 22.8, 22.2, 22.2, 22.4, 22.7, 22.6, 22.1, 22.6, 23.0, 23.2, 22.8, 22.6, 22.5, 22.3, 22.0, 22.4, 22.8, 22.9, 22.8];

const xMajor = [2000, 2005, 2010, 2015, 2020, 2025];
const xMinor = [2002.5, 2007.5, 2012.5, 2017.5, 2022.5];
const yMajorA = [0, 30000, 60000, 90000];
const yMinorA = [15000, 45000, 75000, 105000];
const yMajor = [20000, 40000, 60000, 80000];
const yMinor = [10000, 30000, 50000, 70000];

// ggplot2 hue palette (style)
const palette = ["#F8766D", "#EA8331", "#D89000", "#C09B00", "#A3A500", "#7CAE00", "#39B600", "#00BB4E", "#00BF7D", "#00C1A3", "#00BFC4", "#00BAE0", "#00B0F6", "#35A2FF", "#9590FF", "#C77CFF", "#E76BF3", "#FA62DB", "#FF62BC", "#FF6C91"];
const colA = [10, 6, 8, 4, 9, 18, 16, 11, 13, 12, 5, 1, 2, 15, 0, 17, 7, 3, 19, 14, 8, 1, 12, 18, 6, 16, 10, 2, 3, 13, 17, 9, 5, 0, 11, 14, 19, 7, 15, 4];
const colB = [6, 5, 1, 12, 15, 2, 7, 19, 16, 11, 0, 9, 14, 3, 18, 13, 4, 17, 8, 1, 10, 19, 6, 15, 12, 2, 16, 5, 9, 17, 3, 13, 0, 11, 7, 18, 14, 8];
const colC = [17, 11, 1, 16, 4, 13, 2, 18, 7, 3, 10, 19, 8, 0, 14, 12, 5, 15, 9, 6, 1, 16, 13, 4, 11, 18, 2, 8, 0, 14];
const colD = [19, 3, 4, 2, 1, 15, 18, 13, 7, 10, 0, 11, 17, 9, 16, 14, 8, 2, 12, 6, 18, 5, 13, 0, 1, 9, 16, 3, 12, 19, 10, 4, 15, 7, 17, 11];

const FONT = "'Liberation Sans', Arial, Helvetica, sans-serif";
const TITLE = "Simulated 3\u2212 yr Landings avg of Black Grouper Complex vs the Rec ACL";

type PanelSpec = {
  letter: string;
  pse: string;
  sims: number[][];
  mean: number[];
  colors: number[];
  yMin: number;
  yMax: number;
  yMaj: number[];
  yMin2: number[];
};

function buildOption(p: PanelSpec) {
  const series: any[] = p.sims.map((s, i) => ({
    type: "line",
    data: years.map((y, k) => [y, s[k] * 1000]),
    symbol: "none",
    silent: true,
    z: 2,
    lineStyle: { width: 1.2, color: palette[p.colors[i % p.colors.length] % palette.length], opacity: 0.62 },
  }));
  series.push({
    type: "line",
    data: years.map((y, k) => [y, p.mean[k] * 1000]),
    symbol: "none",
    silent: true,
    z: 4,
    lineStyle: { width: 3.4, color: "#000000" },
    markLine: {
      silent: true,
      symbol: "none",
      label: { show: false },
      lineStyle: { color: "#A020F0", width: 2.6, type: [0.1, 9.2], cap: "round", opacity: 1 },
      data: [{ yAxis: ACL }],
    },
  });
  const grid = { left: 50.6, top: 107.5, width: 568.5, height: 268, containLabel: false, outerBoundsMode: "none" };
  const axisLabelBase = { color: "#4D4D4D", fontSize: 10.2, fontFamily: FONT };
  return {
    animation: false,
    backgroundColor: "#ffffff",
    grid,
    xAxis: [
      {
        type: "value", min: 1999.85, max: 2025.15, position: "bottom",
        axisLine: { show: false }, axisTick: { show: false, customValues: xMajor },
        axisLabel: { ...axisLabelBase, customValues: xMajor, margin: 6.5, hideOverlap: false, formatter: (v: number) => String(v) },
        splitLine: { show: true, lineStyle: { color: "#EBEBEB", width: 1 } },
      },
      {
        type: "value", min: 1999.85, max: 2025.15, position: "bottom",
        axisLine: { show: false }, axisTick: { show: false, customValues: xMinor },
        axisLabel: { show: false },
        splitLine: { show: true, lineStyle: { color: "#F4F4F4", width: 1 } },
      },
    ],
    yAxis: [
      {
        type: "value", min: p.yMin, max: p.yMax, position: "left",
        axisLine: { show: false }, axisTick: { show: false, customValues: p.yMaj },
        axisLabel: { ...axisLabelBase, customValues: p.yMaj, margin: 5.5, formatter: (v: number) => String(v) },
        splitLine: { show: true, lineStyle: { color: "#EBEBEB", width: 1 } },
      },
      {
        type: "value", min: p.yMin, max: p.yMax, position: "left",
        axisLine: { show: false }, axisTick: { show: false, customValues: p.yMin2.filter((v) => v > p.yMin && v < p.yMax) },
        axisLabel: { show: false },
        splitLine: { show: true, lineStyle: { color: "#F4F4F4", width: 1 } },
      },
    ],
    graphic: [
      { type: "text", x: 13, y: 18, style: { text: p.letter, fill: "#000", fontSize: 25, fontWeight: "bold", fontFamily: FONT, textAlign: "left", textVerticalAlign: "middle" } },
      { type: "text", x: 51, y: 95, style: { text: `${TITLE} (PSE=${p.pse})`, fill: "#000", fontSize: 14.1, fontFamily: FONT, textAlign: "left", textVerticalAlign: "middle" } },
      { type: "text", x: 11, y: 241.5, rotation: Math.PI / 2, style: { text: "Value", fill: "#000", fontSize: 11.8, fontFamily: FONT, textAlign: "center", textVerticalAlign: "middle" } },
      { type: "text", x: 335, y: 398.5, style: { text: "Year", fill: "#000", fontSize: 11.8, fontFamily: FONT, textAlign: "center", textVerticalAlign: "middle" } },
    ],
    series,
  };
}

const panels: { spec: PanelSpec; style: React.CSSProperties }[] = [
  { spec: { letter: "A", pse: "0.9", sims: simA, mean: meanA, colors: colA, yMin: -3500, yMax: 118000, yMaj: yMajorA, yMin2: yMinorA }, style: { left: 0, top: 0, width: 624.5, height: 420 } },
  { spec: { letter: "B", pse: "0.5", sims: simB, mean: meanB, colors: colB, yMin: 3200, yMax: 86950, yMaj: yMajor, yMin2: yMinor }, style: { left: 627.7, top: 0, width: 622.3, height: 420 } },
  { spec: { letter: "C", pse: "0.1", sims: simC, mean: meanC, colors: colC, yMin: 14480, yMax: 86620, yMaj: yMajor, yMin2: yMinor }, style: { left: 0, top: 502, width: 624.5, height: 407 } },
  { spec: { letter: "D", pse: "0.3", sims: simD, mean: meanD, colors: colD, yMin: 8200, yMax: 86750, yMaj: yMajor, yMin2: yMinor }, style: { left: 627.7, top: 502, width: 622.3, height: 407 } },
];

function Panel({ spec, style }: { spec: PanelSpec; style: React.CSSProperties }) {
  const ref = useRef<HTMLDivElement>(null);
  useEffect(() => {
    if (!ref.current) return;
    const chart = echarts.init(ref.current, null, { renderer: "svg" });
    chart.setOption(buildOption(spec) as any);
    return () => chart.dispose();
  }, [spec]);
  return <div ref={ref} style={{ position: "absolute", overflow: "hidden", ...style }} />;
}

export default function App() {
  return (
    <div style={{ position: "absolute", left: 0, top: 0, width: 1250, height: 909, background: "#ffffff", overflow: "hidden" }}>
      {panels.map((p) => (
        <Panel key={p.spec.letter} spec={p.spec} style={p.style} />
      ))}
    </div>
  );
}
